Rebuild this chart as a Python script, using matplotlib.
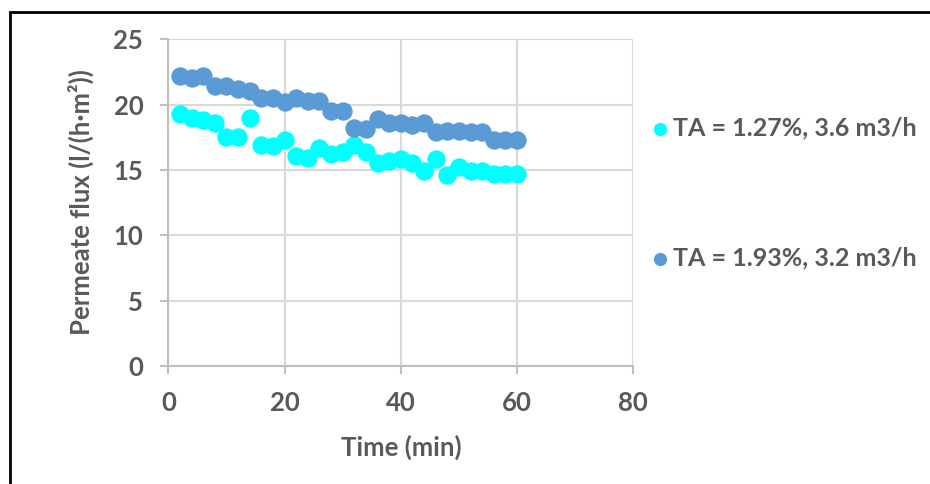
import matplotlib.pyplot as plt
from matplotlib.patches import Rectangle

plt.rcParams['font.family'] = ['Lato', 'DejaVu Sans']
plt.rcParams['font.weight'] = 'bold'
plt.rcParams['axes.labelweight'] = 'bold'

time_min = [2, 4, 6, 8, 10, 12, 14, 16, 18, 20, 22, 24, 26, 28, 30,
            32, 34, 36, 38, 40, 42, 44, 46, 48, 50, 52, 54, 56, 58, 60]
flux_127 = [19.3, 19.0, 18.8, 18.6, 17.5, 17.5, 19.0, 16.9, 16.8, 17.3,
            16.1, 15.9, 16.7, 16.2, 16.4, 16.9, 16.4, 15.5, 15.7, 15.8,
            15.5, 14.9, 15.8, 14.6, 15.2, 14.9, 14.9, 14.7, 14.7, 14.7]
flux_193 = [22.2, 22.0, 22.2, 21.4, 21.4, 21.2, 21.0, 20.5, 20.5, 20.2,
            20.5, 20.3, 20.3, 19.5, 19.5, 18.2, 18.1, 18.9, 18.6, 18.6,
            18.4, 18.6, 17.9, 18.0, 18.0, 17.9, 17.9, 17.3, 17.3, 17.3]
labels = ['TA = 1.27%, 3.6 m3/h', 'TA = 1.93%, 3.2 m3/h']
colors = ['#00FFFF', '#5B9BD5']

txt = '#595959'
fig = plt.figure(figsize=(9.3, 4.84), dpi=100)
ax = fig.add_axes([0.181, 0.244, 0.50, 0.675])

ax.scatter(time_min, flux_127, s=175, color=colors[0], label=labels[0], zorder=3, linewidths=0)
ax.scatter(time_min, flux_193, s=175, color=colors[1], label=labels[1], zorder=3, linewidths=0)

ax.set_xlim(0, 80)
ax.set_ylim(0, 25)
ax.set_xticks([0, 20, 40, 60, 80])
ax.set_yticks([0, 5, 10, 15, 20, 25])
ax.grid(True, color='#d9d9d9', linewidth=1.5)
ax.set_axisbelow(True)
for s in ['top', 'right']:
    ax.spines[s].set_visible(False)
for s in ['left', 'bottom']:
    ax.spines[s].set_color('#bfbfbf')
    ax.spines[s].set_linewidth(1.5)
ax.tick_params(colors='#bfbfbf', labelcolor=txt, labelsize=18.5, length=6, width=1.5, pad=12)
ax.set_xlabel('Time (min)', fontsize=18.5, color=txt, labelpad=14)
ax.set_ylabel('Permeate flux (l/(h·m²))', fontsize=18.5, color=txt, labelpad=14)

leg = fig.legend(loc='upper left', bbox_to_anchor=(0.675, 0.805), frameon=False,
                 fontsize=18, labelcolor=txt, markerscale=0.72, handletextpad=0.1,
                 handlelength=0.8, labelspacing=4.25)

# outer frame (cut off at right and bottom)
fig.patches.append(Rectangle((0.011, -0.1), 1.2, 0.875 + 0.1 + 0.1, transform=fig.transFigure,
                             fill=False, edgecolor='black', linewidth=2))

fig.savefig('out.png', dpi=100)
